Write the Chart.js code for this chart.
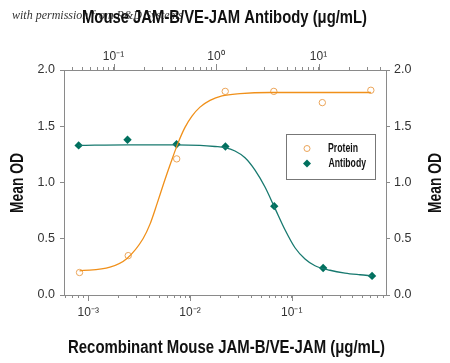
<!DOCTYPE html>
<html><head><meta charset="utf-8">
<script src="https://cdn.jsdelivr.net/npm/chart.js@4/dist/chart.umd.min.js"></script>
<style>html,body{margin:0;padding:0;background:#fff;} #wrap{width:450px;height:363px;}</style>
</head><body><div id="wrap"><canvas id="c" width="450" height="363"></canvas></div>
<script>
// ---- data ----
const proteinConc = [0.00082, 0.00247, 0.0074, 0.0222, 0.0667, 0.2, 0.6];      // µg/mL, bottom axis
const proteinOD   = [0.20, 0.35, 1.21, 1.81, 1.81, 1.71, 1.82];
const antibodyConc = [0.0457, 0.137, 0.412, 1.235, 3.70, 11.1, 33.3];          // µg/mL, top axis
const antibodyOD   = [1.33, 1.38, 1.34, 1.32, 0.79, 0.24, 0.17];

// fitted curves
const proteinFitX = [0.00082, 0.001634, 0.002401, 0.003451, 0.004044, 0.004737, 0.005549, 0.006501, 0.007621, 0.008928, 0.01046, 0.01254, 0.01573, 0.02064, 0.03101, 0.06116, 0.6];
const proteinFitY = [0.215, 0.247, 0.325, 0.50, 0.63, 0.81, 1.00, 1.18, 1.35, 1.49, 1.59, 1.67, 1.73, 1.77, 1.79, 1.80, 1.80];
const antibodyFitX = [0.0457, 0.1354, 0.4072, 0.698, 0.978, 1.224, 1.532, 1.919, 2.402, 3.006, 3.764, 4.711, 5.898, 7.385, 9.245, 12.95, 18.14, 25.40, 33.3];
const antibodyFitY = [1.33, 1.335, 1.335, 1.33, 1.32, 1.31, 1.28, 1.22, 1.11, 0.96, 0.77, 0.58, 0.42, 0.32, 0.26, 0.22, 0.195, 0.18, 0.17];

const yTicks = [0, 0.5, 1.0, 1.5, 2.0];
const bottomRange = [5.77e-4, 0.8455];
const topRange = [0.03289, 45.55];

const TICKFONT = "'Liberation Sans',Arial,sans-serif";
const BOLD = "'Liberation Sans',Arial,sans-serif";
const SUP = {'-':'\u207B','0':'\u2070','1':'\u00B9','2':'\u00B2','3':'\u00B3','4':'\u2074'};
const ORANGE = '#F0901A', ORANGE_PT = '#EBA55A', TEAL = '#17796F', TEAL_PT = '#00705E', AXIS = '#8a8a8a';

function logTicks(min, max) {
  const out = [];
  for (let e = Math.floor(Math.log10(min)); e <= Math.ceil(Math.log10(max)); e++)
    for (let s = 1; s <= 9; s++) { const v = s * Math.pow(10, e); if (v >= min * 0.999 && v <= max * 1.001) out.push(v); }
  return out;
}
function isPow10(v) { const l = Math.log10(v); return Math.abs(l - Math.round(l)) < 1e-6; }
function powLabel(v) {
  if (!isPow10(v)) return '';
  return '10' + String(Math.round(Math.log10(v))).split('').map(c => SUP[c]).join('');
}
const pts = (xs, ys) => xs.map((x, i) => ({x, y: ys[i]}));

// draw text squeezed horizontally to a given width (condensed look)
function fitText(ctx, text, x, y, width, align, rot) {
  const w = ctx.measureText(text).width;
  ctx.save(); ctx.translate(x, y); if (rot) ctx.rotate(rot);
  ctx.scale(width / w, 1); ctx.textAlign = align; ctx.fillText(text, 0, 0); ctx.restore();
}

const overlay = {
  id: 'overlay',
  afterDraw(chart) {
    const ctx = chart.ctx;
    ctx.save();
    // longer major ticks on log axes
    ctx.strokeStyle = AXIS; ctx.lineWidth = 1;
    ['x', 'x2'].forEach(id => {
      const s = chart.scales[id];
      s.ticks.forEach(t => {
        if (!isPow10(t.value)) return;
        const px = Math.round(s.getPixelForValue(t.value)) + 0.5;
        ctx.beginPath();
        if (id === 'x') { ctx.moveTo(px, s.top); ctx.lineTo(px, s.top + 6); }
        else { ctx.moveTo(px, s.bottom); ctx.lineTo(px, s.bottom - 6); }
        ctx.stroke();
      });
    });
    // watermark
    ctx.fillStyle = '#333';
    ctx.font = "italic 12px 'Liberation Serif','DejaVu Serif',serif";
    ctx.textBaseline = 'middle'; ctx.textAlign = 'left';
    ctx.fillText('with permission from R&D Systems', 12, 16);
    // titles
    ctx.fillStyle = '#111';
    ctx.font = "bold 18px " + BOLD;
    fitText(ctx, 'Mouse JAM-B/VE-JAM Antibody (\u03BCg/mL)', 224.5, 18, 285, 'center');
    fitText(ctx, 'Recombinant Mouse JAM-B/VE-JAM (\u03BCg/mL)', 226.5, 348, 317, 'center');
    ctx.font = "bold 18px " + BOLD;
    fitText(ctx, 'Mean OD', 18, 183, 60, 'center', -Math.PI / 2);
    fitText(ctx, 'Mean OD', 436, 183, 60, 'center', -Math.PI / 2);
    // legend
    ctx.fillStyle = '#fff'; ctx.strokeStyle = '#777'; ctx.lineWidth = 1;
    ctx.fillRect(286.5, 134.5, 89, 45); ctx.strokeRect(286.5, 134.5, 89, 45);
    const ds = chart.data.datasets;
    ctx.beginPath(); ctx.arc(307, 148.5, 3, 0, Math.PI * 2);
    ctx.strokeStyle = ds[2].pointBorderColor; ctx.lineWidth = 1; ctx.stroke();
    ctx.beginPath(); ctx.moveTo(307, 159.5); ctx.lineTo(311, 163.5); ctx.lineTo(307, 167.5); ctx.lineTo(303, 163.5); ctx.closePath();
    ctx.fillStyle = ds[3].pointBackgroundColor; ctx.fill();
    ctx.fillStyle = '#111'; ctx.font = "bold 13px " + BOLD;
    fitText(ctx, ds[2].label, 328, 148.5, 30, 'left');
    fitText(ctx, ds[3].label, 328.5, 163.5, 37.5, 'left');
    ctx.restore();
  }
};

const logAxis = (pos, range, height, pad) => ({
  type: 'logarithmic', position: pos, min: range[0], max: range[1],
  afterBuildTicks: s => { s.ticks = logTicks(range[0], range[1]).map(v => ({value: v, major: isPow10(v)})); },
  afterFit: s => { s.height = height; },
  grid: { drawOnChartArea: false, drawTicks: true, tickLength: 3, color: AXIS, tickColor: AXIS },
  border: { display: true, color: AXIS, width: 1 },
  ticks: { autoSkip: false, maxRotation: 0, padding: pad, color: '#333', font: { family: TICKFONT, size: 12 }, callback: v => powLabel(v) }
});
const linAxis = (pos) => ({
  type: 'linear', position: pos, min: 0, max: 2,
  afterBuildTicks: s => { s.ticks = yTicks.map(v => ({value: v})); },
  afterFit: s => { s.width = 64; },
  grid: { drawOnChartArea: false, drawTicks: true, tickLength: 4, color: AXIS, tickColor: AXIS },
  border: { display: true, color: AXIS, width: 1 },
  ticks: { padding: pos === 'left' ? 5 : 4, color: '#333', font: { family: TICKFONT, size: 12.5 }, callback: v => Number(v).toFixed(1) }
});

new Chart(document.getElementById('c'), {
  type: 'scatter',
  data: {
    datasets: [
      { label: 'Protein fit', data: pts(proteinFitX, proteinFitY), xAxisID: 'x', yAxisID: 'y', showLine: true,
        borderColor: ORANGE, borderWidth: 1.3, pointRadius: 0, cubicInterpolationMode: 'monotone', fill: false },
      { label: 'Antibody fit', data: pts(antibodyFitX, antibodyFitY), xAxisID: 'x2', yAxisID: 'y', showLine: true,
        borderColor: TEAL, borderWidth: 1.3, pointRadius: 0, cubicInterpolationMode: 'monotone', fill: false },
      { label: 'Protein', data: pts(proteinConc, proteinOD), xAxisID: 'x', yAxisID: 'y', showLine: false,
        pointStyle: 'circle', pointRadius: 3.2, pointBorderWidth: 1, pointBorderColor: ORANGE_PT, pointBackgroundColor: 'rgba(255,255,255,0)' },
      { label: 'Antibody', data: pts(antibodyConc, antibodyOD), xAxisID: 'x2', yAxisID: 'y', showLine: false,
        pointStyle: 'rectRot', pointRadius: 4.2, pointBorderWidth: 0, pointBorderColor: TEAL_PT, pointBackgroundColor: TEAL_PT }
    ]
  },
  options: {
    responsive: false, animation: false, devicePixelRatio: 1,
    layout: { padding: 0 },
    plugins: { legend: { display: false }, tooltip: { enabled: false }, title: { display: false } },
    scales: {
      x: logAxis('bottom', bottomRange, 68, 7),
      x2: logAxis('top', topRange, 70, 3),
      y: linAxis('left'),
      y2: linAxis('right')
    }
  },
  plugins: [overlay]
});
</script></body></html>
